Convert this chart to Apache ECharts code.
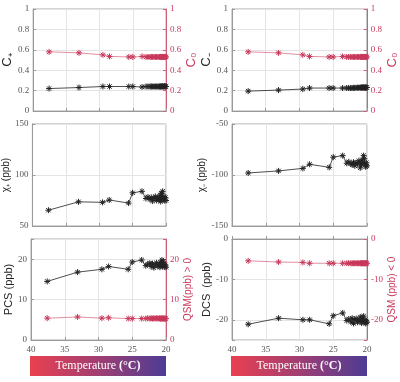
<!DOCTYPE html>
<html>
<head>
<meta charset="utf-8">
<script src="https://cdn.jsdelivr.net/npm/echarts@6/dist/echarts.min.js"></script>
<style>
html, body { margin: 0; padding: 0; background: #fff; }
#chart { width: 400px; height: 382px; }
</style>
</head>
<body>
<div id="chart"></div>
<script>
// temperature of each measurement, in acquisition order
var temps = [37.6, 33.1, 29.5, 28.5, 25.6, 25.0, 23.6, 23.0, 22.7, 22.4, 22.2, 22.0, 21.8, 21.6,
    21.4, 21.2, 21.0, 20.9, 20.8, 20.7, 20.6, 20.5, 20.4, 20.3, 20.2, 20.1, 20.0];

var cPlus = [0.22, 0.23, 0.24, 0.24, 0.24, 0.24, 0.235, 0.24, 0.24, 0.24, 0.24, 0.24, 0.24, 0.24,
    0.24, 0.24, 0.24, 0.24, 0.24, 0.24, 0.245, 0.24, 0.24, 0.24, 0.245, 0.24, 0.24];
var cMinus = [0.195, 0.205, 0.215, 0.225, 0.225, 0.225, 0.225, 0.225, 0.225, 0.225, 0.225, 0.228, 0.225, 0.228,
    0.228, 0.228, 0.23, 0.228, 0.23, 0.23, 0.23, 0.232, 0.23, 0.23, 0.232, 0.23, 0.23];
var cZero = [0.58, 0.57, 0.55, 0.535, 0.53, 0.53, 0.535, 0.53, 0.53, 0.53, 0.53, 0.53, 0.53, 0.53,
    0.53, 0.53, 0.53, 0.53, 0.53, 0.53, 0.53, 0.53, 0.53, 0.53, 0.53, 0.53, 0.53];

var chiPlus = [65.5, 73.7, 73.2, 75.5, 72.5, 82.5, 84, 77, 78.5, 76, 78, 74.5, 77, 79,
    75, 78, 76, 80, 74, 82, 77, 84, 76, 79, 75, 78, 75];
var chiMinus = [-98, -96, -93.5, -89.5, -92.5, -82.5, -81, -88.5, -87, -89, -90, -87.5, -91, -88,
    -89, -86, -93, -88, -90, -85, -88, -81, -84, -89, -92, -88, -91];

var pcs = [14.5, 16.8, 17.5, 18.2, 17.5, 19.3, 19.8, 18.4, 18.8, 19.0, 18.2, 18.9, 17.9, 18.6,
    19.1, 18.3, 18.8, 18.0, 19.2, 18.5, 19.8, 18.2, 19.5, 18.7, 18.1, 18.6, 18.0];
var qsmPos = [5.4, 5.7, 5.4, 5.5, 5.3, 5.3, 5.3, 5.3, 5.4, 5.3, 5.4, 5.3, 5.4, 5.3,
    5.4, 5.3, 5.4, 5.3, 5.3, 5.3, 5.4, 5.3, 5.3, 5.3, 5.3, 5.3, 5.3];
var dcs = [-21.1, -19.6, -20.0, -20.0, -21.0, -19.0, -18.3, -20.2, -19.8, -20.5, -19.6, -20.9, -20.0, -19.7,
    -20.6, -20.1, -19.3, -20.4, -20.8, -19.5, -20.2, -19.1, -20.6, -20.0, -20.9, -20.3, -20.6];
var qsmNeg = [-5.4, -5.7, -5.8, -6.0, -6.0, -6.0, -6.0, -6.0, -6.0, -6.0, -6.0, -6.0, -6.0, -6.0,
    -6.0, -6.0, -6.0, -6.0, -6.0, -6.0, -6.0, -6.0, -6.0, -6.0, -6.0, -6.0, -6.0];

var xTicks = [20, 25, 30, 35, 40];

var BLACK = '#222';
var RED = '#c8385a';
var GREY = '#999';
var serif = 'Liberation Serif';
var sans = 'Liberation Sans';
var star = 'path://M0,-5L0,5M-5,0L5,0M-3.6,-3.6L3.6,3.6M-3.6,3.6L3.6,-3.6';

var chart = echarts.init(document.getElementById('chart'));

function pairs(ys) {
    return temps.map(function (t, i) { return [t, ys[i]]; });
}

var grids = [
    { left: 31, top: 9, width: 135, height: 102 },
    { left: 232, top: 9, width: 135, height: 102 },
    { left: 31, top: 124, width: 135, height: 102 },
    { left: 232, top: 124, width: 135, height: 102 },
    { left: 31, top: 239, width: 135, height: 101 },
    { left: 232, top: 239, width: 135, height: 101 }
];
grids.forEach(function (g) {
    g.show = true;
    g.borderColor = '#aaa';
    g.borderWidth = 1;
    g.backgroundColor = 'transparent';
});

var xAxes = grids.map(function (g, i) {
    return {
        gridIndex: i,
        type: 'value',
        min: 20,
        max: 40,
        interval: 5,
        inverse: true,
        axisLine: { lineStyle: { color: GREY } },
        axisTick: { inside: true, length: 3, lineStyle: { color: GREY } },
        splitLine: { show: true, lineStyle: { color: '#e4e4e4' } },
        axisLabel: {
            show: i >= 4,
            fontFamily: serif,
            fontSize: 9,
            color: '#555',
            margin: 5,
            formatter: function (v) { return xTicks.indexOf(v) >= 0 ? v : ''; }
        }
    };
});

function yAxis(gridIndex, pos, opts) {
    var red = pos === 'right';
    var ax = {
        gridIndex: gridIndex,
        type: 'value',
        position: pos,
        min: opts.min,
        max: opts.max,
        name: opts.name,
        nameLocation: 'middle',
        nameRotate: 90,
        nameGap: opts.gap,
        nameTextStyle: {
            fontFamily: opts.nameFont || sans,
            fontSize: opts.nameSize || 11,
            color: red ? RED : BLACK
        },
        axisLine: { show: true, lineStyle: { color: red ? '#d0607a' : GREY } },
        axisTick: { inside: true, length: 3, lineStyle: { color: red ? '#d0607a' : GREY } },
        splitLine: { show: !red, lineStyle: { color: '#e4e4e4' } },
        axisLabel: {
            fontFamily: serif,
            fontSize: 9,
            margin: 4,
            color: red ? RED : '#555',
            formatter: opts.fmt
        }
    };
    if (opts.interval) {
        ax.interval = opts.interval;
    } else {
        ax.splitNumber = opts.splitNumber;
    }
    return ax;
}

var tens = function (v) { return v % 10 === 0 ? v : ''; };

var yAxes = [
    yAxis(0, 'left', { min: 0, max: 1, interval: 0.2, name: 'C₊', gap: 17, nameSize: 13 }),
    yAxis(0, 'right', { min: 0, max: 1, interval: 0.2, name: 'C₀', gap: 19, nameSize: 13 }),
    yAxis(1, 'left', { min: 0, max: 1, interval: 0.2, name: 'C₋', gap: 17, nameSize: 13 }),
    yAxis(1, 'right', { min: 0, max: 1, interval: 0.2, name: 'C₀', gap: 19, nameSize: 13 }),
    yAxis(2, 'left', { min: 50, max: 150, interval: 50, name: 'χ₊ (ppb)', gap: 19, nameSize: 10 }),
    yAxis(3, 'left', { min: -150, max: -50, interval: 50, name: 'χ₋ (ppb)', gap: 22, nameSize: 10 }),
    yAxis(4, 'left', { min: 0, max: 25, splitNumber: 3, name: 'PCS (ppb)', gap: 14, nameSize: 11, fmt: tens }),
    yAxis(4, 'right', { min: 0, max: 25, splitNumber: 3, name: 'QSM(ppb) > 0', gap: 16, nameSize: 10, fmt: tens }),
    yAxis(5, 'left', { min: -25, max: 0, splitNumber: 3, name: 'DCS  (ppb)', gap: 18, nameSize: 11, fmt: tens }),
    yAxis(5, 'right', { min: -25, max: 0, splitNumber: 3, name: 'QSM (ppb) < 0', gap: 18, nameSize: 10, fmt: tens })
];

function line(data, xi, yi, color, opacity) {
    return {
        type: 'line',
        xAxisIndex: xi,
        yAxisIndex: yi,
        data: pairs(data),
        symbol: star,
        symbolSize: 6,
        animation: false,
        itemStyle: { color: 'transparent', borderColor: color, borderWidth: 1 },
        lineStyle: { color: color, width: 0.8, opacity: opacity || 1 }
    };
}

function colorbar(x) {
    return {
        type: 'group',
        left: x,
        top: 356,
        children: [
            {
                type: 'rect',
                shape: { x: 0, y: 0, width: 136, height: 20 },
                style: {
                    fill: new echarts.graphic.LinearGradient(0, 0, 1, 0, [
                        { offset: 0, color: '#ea4050' },
                        { offset: 0.5, color: '#a03e72' },
                        { offset: 1, color: '#4c3c95' }
                    ])
                }
            },
            {
                type: 'text',
                x: 68,
                y: 10,
                style: {
                    text: '{a|Temperature }{b|(°C)}',
                    align: 'center',
                    verticalAlign: 'middle',
                    rich: {
                        a: { fontFamily: serif, fontSize: 12, fill: '#fff' },
                        b: { fontFamily: serif, fontSize: 12, fontWeight: 'bold', fill: '#fff' }
                    }
                }
            }
        ]
    };
}

var option = {
    backgroundColor: '#fff',
    animation: false,
    grid: grids,
    xAxis: xAxes,
    yAxis: yAxes,
    series: [
        line(cZero, 0, 1, RED, 0.7),
        line(cPlus, 0, 0, BLACK),
        line(cZero, 1, 3, RED, 0.7),
        line(cMinus, 1, 2, BLACK),
        line(chiPlus, 2, 4, BLACK),
        line(chiMinus, 3, 5, BLACK),
        line(qsmPos, 4, 7, RED, 0.7),
        line(pcs, 4, 6, BLACK),
        line(qsmNeg, 5, 9, RED, 0.7),
        line(dcs, 5, 8, BLACK)
    ],
    graphic: [colorbar(30), colorbar(231)]
};

chart.setOption(option);
</script>
</body>
</html>
